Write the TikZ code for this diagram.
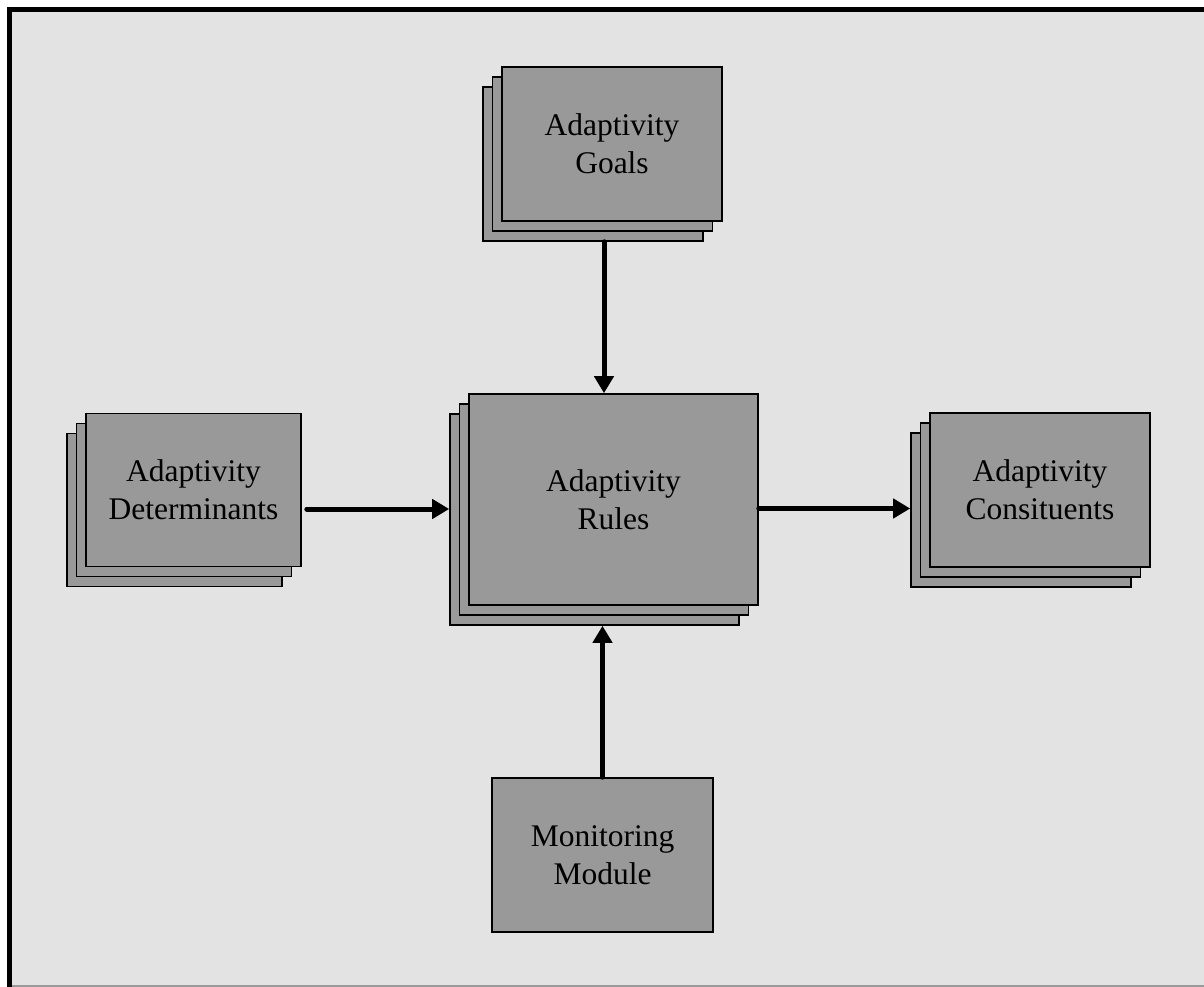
\documentclass[tikz,border=0pt]{standalone}
\usepackage{fontspec}
\setmainfont{Liberation Serif}
\usepackage{xcolor}
\usepackage{tikz}
\usetikzlibrary{arrows.meta}
\usetikzlibrary{shadows}
\usetikzlibrary{calc}
\definecolor{panel}{HTML}{E3E3E3}
\definecolor{boxgray}{HTML}{999999}

\begin{document}
\begin{tikzpicture}[x=1pt,y=-1pt,
    box/.style={draw=black,line width=1.6pt,fill=boxgray,inner sep=0pt,align=center,
        font=\fontsize{31.5}{38}\selectfont},
    stack/.style={box,
        copy shadow={shadow xshift=-19pt,shadow yshift=-20pt},
        copy shadow={shadow xshift=-9.5pt,shadow yshift=-10pt}},
    arr/.style={line width=5pt,line cap=round,-{Triangle[width=19pt,length=17pt]}}]
        \useasboundingbox (0,0) rectangle (1204,987);
        \fill[panel] (12,12) rectangle (1204,985);
        \draw[black!40,line width=1.5pt] (12,986) -- (1204,986);
        \draw[black,line width=5pt] (9.5,987) -- (9.5,9.5) -- (1204,9.5);

        \node[stack,minimum width=220pt,minimum height=154pt] (goals) at (612,144) {Adaptivity\\Goals};
        \node[stack,minimum width=215pt,minimum height=153pt] (determ) at (193.5,490) {Adaptivity\\Determinants};
        \node[stack,minimum width=289pt,minimum height=211pt] (rules) at (613.5,499.5) {Adaptivity\\Rules};
        \node[stack,minimum width=220pt,minimum height=154pt] (constit) at (1040,490) {Adaptivity\\Consituents};
        \node[box,minimum width=221pt,minimum height=154pt] (monitor) at (602.5,855) {Monitoring\\Module};

        \coordinate (gout) at ($(goals.south)+(-8,20)$);
        \coordinate (rbot) at ($(rules.south)+(0,20)$);
        \coordinate (rleft) at ($(rules.west)+(-19,0)$);
        \coordinate (dout) at ($(determ.east)+(5,19)$);
        \coordinate (rout) at ($(rules.east)+(0,9)$);
        \coordinate (cleft) at ($(constit.west)+(-19,0)$);

        \draw[arr] (gout) -- (gout |- rules.north);
        \draw[arr] (monitor.north) -- (monitor.north |- rbot);
        \draw[arr] (dout) -- (dout -| rleft);
        \draw[arr] (rout) -- (rout -| cleft);
    \end{tikzpicture}
\end{document}
